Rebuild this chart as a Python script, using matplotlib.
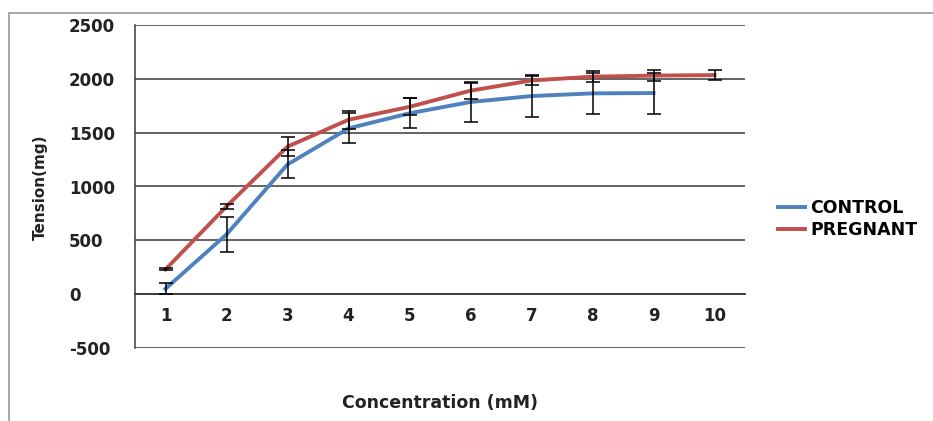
import matplotlib.pyplot as plt
from matplotlib.patches import Rectangle

conc = [1, 2, 3, 4, 5, 6, 7, 8, 9, 10]
control = [50, 555, 1205, 1540, 1680, 1785, 1840, 1865, 1868]
control_err = [50, 160, 130, 140, 140, 185, 195, 190, 190]
pregnant = [230, 815, 1370, 1620, 1740, 1890, 1985, 2020, 2030, 2035]
pregnant_err = [10, 20, 90, 85, 80, 75, 45, 50, 50, 45]

blue = '#4F81BD'
red = '#C0504D'
grid_col = '#3a3a3a'

plt.rcParams['axes.unicode_minus'] = False

fig = plt.figure(figsize=(9.33, 4.21), dpi=100)
# outer chart frame
fig.patches.append(Rectangle((9 / 933, -0.05), 1.0, 1 - 13 / 421 + 0.05,
                             transform=fig.transFigure, fill=False,
                             edgecolor='#9a9a9a', linewidth=1.2))

ax = fig.add_axes([135 / 933, 1 - 348 / 421, 610 / 933, 323 / 421])

ax.plot(conc[:len(control)], control, color=blue, lw=2.8, label='CONTROL', zorder=3)
ax.plot(conc, pregnant, color=red, lw=2.8, label='PREGNANT', zorder=4)
ax.errorbar(conc[:len(control)], control, yerr=control_err, fmt='none',
            ecolor='black', elinewidth=1.1, capsize=5, capthick=1.1, zorder=5)
ax.errorbar(conc, pregnant, yerr=pregnant_err, fmt='none',
            ecolor='black', elinewidth=1.1, capsize=5, capthick=1.1, zorder=5)

ax.set_xlim(0.5, 10.5)
ax.set_ylim(-500, 2500)
ax.set_yticks(range(-500, 2501, 500))
ax.set_xticks(conc)
ax.yaxis.grid(True, color=grid_col, lw=1.1)
ax.set_axisbelow(True)

for s in ['top', 'right']:
    ax.spines[s].set_visible(False)
ax.spines['left'].set_color(grid_col)
ax.spines['left'].set_linewidth(1.1)
ax.spines['bottom'].set_position(('data', 0))
ax.spines['bottom'].set_color(grid_col)
ax.spines['bottom'].set_linewidth(1.3)

ax.tick_params(axis='x', length=0, pad=9, labelsize=12, colors='#222222')
ax.tick_params(axis='y', length=0, pad=47.5, labelsize=12, colors='#222222')
for lab in ax.get_xticklabels() + ax.get_yticklabels():
    lab.set_fontweight('bold')
for lab in ax.get_yticklabels():
    lab.set_horizontalalignment('left')

fig.text(40 / 933, 1 - 187 / 421, 'Tension(mg)', rotation=90, ha='center', va='center',
         fontsize=11, fontweight='bold', family=['Liberation Sans Narrow', 'DejaVu Sans'],
         color='#222222')
fig.text(440 / 933, 1 - 403 / 421, 'Concentration (mM)', ha='center', va='center',
         fontsize=12.5, fontweight='bold', color='#222222')

fig.legend(loc='center left', bbox_to_anchor=(762 / 933, 1 - 219 / 421), frameon=False,
           prop={'weight': 'bold', 'size': 12.5}, handlelength=1.6, handletextpad=0.3,
           labelspacing=0.2)

fig.savefig('out.png', dpi=100)
